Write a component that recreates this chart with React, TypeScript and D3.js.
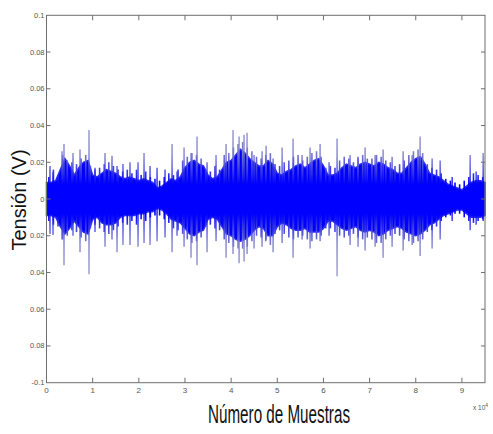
import React from "react";
import * as d3 from "d3";

// envelope sampled every 1000 samples (0 .. 95000)
const envUpper = [
  0.009, 0.009, 0.010, 0.016, 0.022, 0.018, 0.013, 0.017, 0.020, 0.021,
  0.013, 0.012, 0.014, 0.016, 0.015, 0.014, 0.012, 0.011, 0.012, 0.011,
  0.010, 0.011, 0.010, 0.009, 0.006, 0.007, 0.009, 0.011, 0.010, 0.012,
  0.017, 0.020, 0.021, 0.019, 0.018, 0.013, 0.011, 0.012, 0.016, 0.020,
  0.021, 0.024, 0.027, 0.025, 0.022, 0.020, 0.018, 0.018, 0.021, 0.019,
  0.014, 0.013, 0.015, 0.016, 0.018, 0.019, 0.017, 0.019, 0.021, 0.022,
  0.018, 0.013, 0.013, 0.014, 0.017, 0.019, 0.018, 0.017, 0.019, 0.020,
  0.019, 0.018, 0.020, 0.019, 0.017, 0.016, 0.014, 0.014, 0.017, 0.020,
  0.022, 0.023, 0.019, 0.014, 0.013, 0.012, 0.010, 0.008, 0.007, 0.006,
  0.005, 0.007, 0.009, 0.010, 0.010, 0.009,
];
const envLower = [
  -0.009, -0.009, -0.010, -0.015, -0.019, -0.016, -0.012, -0.015, -0.018, -0.019,
  -0.011, -0.010, -0.013, -0.014, -0.014, -0.013, -0.010, -0.009, -0.009, -0.009,
  -0.008, -0.008, -0.007, -0.007, -0.005, -0.006, -0.008, -0.011, -0.012, -0.013,
  -0.016, -0.019, -0.020, -0.018, -0.017, -0.011, -0.010, -0.011, -0.015, -0.019,
  -0.020, -0.022, -0.023, -0.022, -0.020, -0.017, -0.015, -0.016, -0.020, -0.020,
  -0.015, -0.013, -0.014, -0.016, -0.017, -0.017, -0.016, -0.018, -0.018, -0.018,
  -0.016, -0.012, -0.012, -0.014, -0.016, -0.017, -0.016, -0.015, -0.017, -0.018,
  -0.017, -0.018, -0.020, -0.019, -0.017, -0.016, -0.015, -0.016, -0.018, -0.019,
  -0.020, -0.019, -0.017, -0.014, -0.013, -0.011, -0.009, -0.008, -0.007, -0.006,
  -0.006, -0.008, -0.010, -0.010, -0.010, -0.009,
];
const envStep = 1000;

// medium peaks, one at every half-thousand sample (500, 1500, ... 94500)
const hairHigh = [
  0.012, 0.016, 0.013, 0.024, 0.021, 0.020, 0.019, 0.022, 0.024, 0.018,
  0.016, 0.017, 0.019, 0.020, 0.018, 0.016, 0.015, 0.016, 0.014, 0.016,
  0.013, 0.015, 0.012, 0.011, 0.010, 0.012, 0.014, 0.013, 0.016, 0.021,
  0.023, 0.025, 0.024, 0.022, 0.016, 0.015, 0.018, 0.016, 0.024, 0.025,
  0.028, 0.030, 0.031, 0.028, 0.026, 0.023, 0.022, 0.024, 0.025, 0.019,
  0.018, 0.020, 0.021, 0.023, 0.024, 0.021, 0.023, 0.025, 0.026, 0.023,
  0.017, 0.018, 0.017, 0.021, 0.023, 0.022, 0.020, 0.023, 0.024, 0.022,
  0.022, 0.024, 0.023, 0.021, 0.020, 0.018, 0.019, 0.021, 0.024, 0.026,
  0.027, 0.025, 0.019, 0.017, 0.016, 0.014, 0.011, 0.010, 0.009, 0.008,
  0.010, 0.012, 0.014, 0.013, 0.012,
];
const hairLow = [
  -0.012, -0.014, -0.015, -0.022, -0.020, -0.017, -0.018, -0.021, -0.023, -0.016,
  -0.014, -0.016, -0.018, -0.019, -0.017, -0.015, -0.013, -0.014, -0.012, -0.014,
  -0.011, -0.012, -0.010, -0.009, -0.009, -0.011, -0.013, -0.016, -0.017, -0.019,
  -0.022, -0.024, -0.023, -0.021, -0.015, -0.014, -0.016, -0.017, -0.022, -0.024,
  -0.026, -0.027, -0.027, -0.026, -0.023, -0.020, -0.021, -0.023, -0.025, -0.019,
  -0.017, -0.019, -0.021, -0.022, -0.021, -0.020, -0.022, -0.023, -0.022, -0.020,
  -0.016, -0.016, -0.018, -0.020, -0.021, -0.020, -0.019, -0.021, -0.022, -0.021,
  -0.022, -0.024, -0.024, -0.022, -0.020, -0.019, -0.020, -0.022, -0.023, -0.024,
  -0.023, -0.022, -0.018, -0.017, -0.015, -0.012, -0.010, -0.009, -0.008, -0.008,
  -0.010, -0.012, -0.013, -0.012, -0.011,
];
const hairOffset = 500;

// isolated tall peaks
const spikeSample = [
  760, 1410, 3360, 3790, 5740, 7260, 9210, 10510, 12680, 14190,
  15280, 16570, 18090, 19830, 21130, 22430, 23950, 25680, 27200, 28280,
  29800, 31310, 32610, 34780, 36730, 38900, 40410, 41720, 42800, 43450,
  44970, 46700, 47570, 49090, 51040, 53420, 55370, 57100, 59270, 61220,
  62950, 65770, 67500, 69020, 71190, 72920, 74870, 77260, 79210, 80940,
  83540, 85280, 87880, 91780, 93080, 94600,
];
const spikeHigh = [
  0.018, 0.0147, 0.026, 0.030, 0.025, 0.027, 0.0375, 0.017, 0.025, 0.0235,
  0.018, 0.019, 0.020, 0.020, 0.025, 0.018, 0.017, 0.016, 0.030, 0.015,
  0.028, 0.025, 0.034, 0.020, 0.024, 0.030, 0.0375, 0.034, 0.035, 0.036,
  0.024, 0.026, 0.029, 0.022, 0.028, 0.033, 0.024, 0.028, 0.030, 0.020,
  0.033, 0.024, 0.022, 0.028, 0.024, 0.027, 0.023, 0.026, 0.024, 0.034,
  0.022, 0.021, 0.012, 0.024, 0.015, 0.025,
];
const spikeLow = [
  -0.019, -0.0196, -0.022, -0.036, -0.020, -0.029, -0.041, -0.018, -0.026, -0.022,
  -0.029, -0.025, -0.025, -0.026, -0.024, -0.025, -0.023, -0.021, -0.029, -0.020,
  -0.026, -0.032, -0.036, -0.029, -0.023, -0.032, -0.030, -0.035, -0.034, -0.030,
  -0.027, -0.026, -0.022, -0.029, -0.024, -0.032, -0.022, -0.027, -0.023, -0.020,
  -0.042, -0.025, -0.026, -0.028, -0.026, -0.032, -0.026, -0.028, -0.025, -0.031,
  -0.027, -0.022, -0.012, -0.017, -0.014, -0.012,
];

const xTickValues = [0, 1, 2, 3, 4, 5, 6, 7, 8, 9];
const yTickValues = [0.1, 0.08, 0.06, 0.04, 0.02, 0, -0.02, -0.04, -0.06, -0.08, -0.1];
const yTickLabels = ["0.1", "0.08", "0.06", "0.04", "0.02", "0", "0.02", "0.04", "0.06", "0.08", "-0.1"];

const W = 493;
const H = 434;
const left = 46.5;
const right = 485;
const top = 15.3;
const bottom = 382.7;

export default function App() {
  const x = d3.scaleLinear().domain([0, 95000]).range([left, right]);
  const y = d3.scaleLinear().domain([-0.1, 0.1]).range([bottom, top]);

  const envData = envUpper.map((u, i) => ({ s: i * envStep, u, l: envLower[i] }));
  const area = d3
    .area<{ s: number; u: number; l: number }>()
    .x((d) => x(d.s))
    .y0((d) => y(d.l))
    .y1((d) => y(d.u))
    .curve(d3.curveLinear);
  const areaPath = area(envData) || "";

  // core polygon that also passes through the medium peaks (scaled down toward the envelope)
  const axisColor = "#6e6e6e";
  const tickFont = "'Liberation Sans Narrow', 'Arial Narrow', 'Liberation Sans', sans-serif";

  return (
    <svg
      width={W}
      height={H}
      style={{ position: "absolute", left: 0, top: 0, background: "#fff" }}
    >
      <defs>
        <linearGradient
          id="spk"
          gradientUnits="userSpaceOnUse"
          x1={0}
          x2={0}
          y1={y(0.04)}
          y2={y(-0.04)}
        >
          <stop offset="0" stopColor="#9090c8" />
          <stop offset="0.2" stopColor="#7878cc" />
          <stop offset="0.33" stopColor="#3030e8" />
          <stop offset="0.4" stopColor="#0000ff" />
          <stop offset="0.6" stopColor="#0000ff" />
          <stop offset="0.67" stopColor="#3030e8" />
          <stop offset="0.8" stopColor="#7878cc" />
          <stop offset="1" stopColor="#9090c8" />
        </linearGradient>
      </defs>
      <rect x={0} y={0} width={W} height={H} fill="#fff" />
      <path d={areaPath} fill="#0000ff" stroke="#2a2af0" strokeWidth={1.5} />
      {/* medium peaks */}
      <g>
        {hairHigh.map((h, i) => (
          <line
            key={"hr" + i}
            x1={x(i * envStep + hairOffset)}
            x2={x(i * envStep + hairOffset)}
            y1={y(h)}
            y2={y(hairLow[i])}
            stroke="url(#spk)"
            strokeWidth={1.6}
          />
        ))}
      </g>
      {/* tall peaks */}
      <g>
        {spikeSample.map((s, i) => (
          <line
            key={"sp" + i}
            x1={x(s)}
            x2={x(s)}
            y1={y(spikeHigh[i])}
            y2={y(spikeLow[i])}
            stroke="url(#spk)"
            strokeWidth={1.3}
          />
        ))}
      </g>

      {/* axes box */}
      <rect
        x={left}
        y={top}
        width={right - left}
        height={bottom - top}
        fill="none"
        stroke={axisColor}
        strokeWidth={1}
      />
      {xTickValues.map((v) => (
        <g key={"xt" + v}>
          {v > 0 && (
            <>
              <line x1={x(v * 10000)} x2={x(v * 10000)} y1={bottom} y2={bottom - 5} stroke={axisColor} />
              <line x1={x(v * 10000)} x2={x(v * 10000)} y1={top} y2={top + 5} stroke={axisColor} />
            </>
          )}
          <text
            x={x(v * 10000)}
            y={393}
            fontSize={8}
            fill="#555"
            textAnchor="middle"
            fontFamily={tickFont}
          >
            {v}
          </text>
        </g>
      ))}
      {yTickValues.map((v, i) => (
        <g key={"yt" + i}>
          {i > 0 && i < yTickValues.length - 1 && (
            <>
              <line x1={left} x2={left + 4} y1={y(v)} y2={y(v)} stroke={axisColor} />
              <line x1={right} x2={right - 4} y1={y(v)} y2={y(v)} stroke={axisColor} />
            </>
          )}
          <text
            x={left - 2}
            y={y(v) + 2.5}
            fontSize={7.5}
            fill="#555"
            textAnchor="end"
            fontFamily={tickFont}
          >
            {yTickLabels[i]}
          </text>
        </g>
      ))}
      <text x={473} y={410} fontSize={6.5} fill="#555" fontFamily={tickFont}>
        x 10
        <tspan dy={-3} fontSize={5}>4</tspan>
      </text>

      <text
        transform={`translate(26, ${200}) rotate(-90)`}
        textAnchor="middle"
        fontSize={20}
        fill="#111"
        fontFamily="'Liberation Sans', Arial, sans-serif"
      >
        Tensión (V)
      </text>
      <text
        x={208}
        y={423}
        fontSize={25}
        fill="#111"
        fontFamily={tickFont}
        textLength={142}
        lengthAdjust="spacingAndGlyphs"
      >
        Número de Muestras
      </text>
    </svg>
  );
}
